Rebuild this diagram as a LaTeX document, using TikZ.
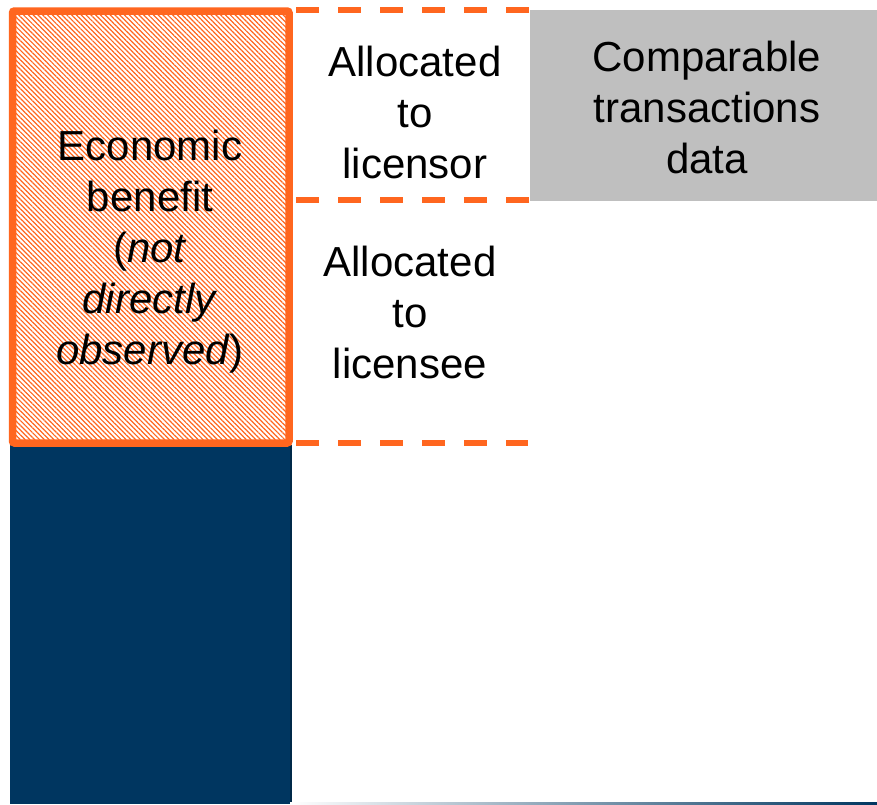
\documentclass[tikz,border=0pt]{standalone}
\usepackage{fontspec}
\setmainfont{Liberation Sans}
\usetikzlibrary{patterns.meta}

\definecolor{benefitorange}{RGB}{255,102,31}
\definecolor{costblue}{RGB}{0,54,96}
\definecolor{datagray}{RGB}{191,191,191}

\begin{document}
\begin{tikzpicture}[x=1pt,y=-1pt,
  lbl/.style={align=center,inner sep=0pt,font=\fontsize{42}{51}\selectfont},
  split/.style={draw=benefitorange,line width=6pt,dash pattern=on 23pt off 19pt}]
  \useasboundingbox (0,0) rectangle (877,804);

  % blue part of the bar
  \fill [costblue] (10,445) rectangle (292,804);
  \draw [costblue!75!black,line width=2pt] (291,445) -- (291,804);
  \shade [left color=white,right color=costblue] (290,802.5) rectangle (877,804);

  % hatched part of the bar
  \fill [pattern={Lines[angle=-45,distance=3.4pt,line width=1.2pt]},pattern color=benefitorange]
     (12,11) rectangle (289,443);
  \draw [benefitorange,line width=7.5pt,rounded corners=2pt] (12.5,11) rectangle (289,443);

  \node [lbl] (benefit) at (150,252)
     {Economic\\benefit\\(\textit{not}\\\textit{directly}\\\textit{observed})};

  % split of the benefit
  \coordinate (s1) at (296,10);  \coordinate (e1) at (530,10);
  \coordinate (s2) at (296,200); \coordinate (e2) at (530,200);
  \coordinate (s3) at (296,443); \coordinate (e3) at (528,443);
  \draw [split] (s1) -- (e1);
  \draw [split] (s2) -- (e2);
  \draw [split] (s3) -- (e3);

  \node [lbl] (licensor) at (415,112) {Allocated\\to\\licensor};
  \node [lbl] (licensee) at (410,312) {Allocated\\to\\licensee};

  \node [fill=datagray,minimum width=347pt,minimum height=191pt,inner sep=0pt] (comp) at (703.5,105.5) {};
  \node [lbl] (comptext) at (707,107) {Comparable\\transactions\\data};
\end{tikzpicture}
\end{document}
